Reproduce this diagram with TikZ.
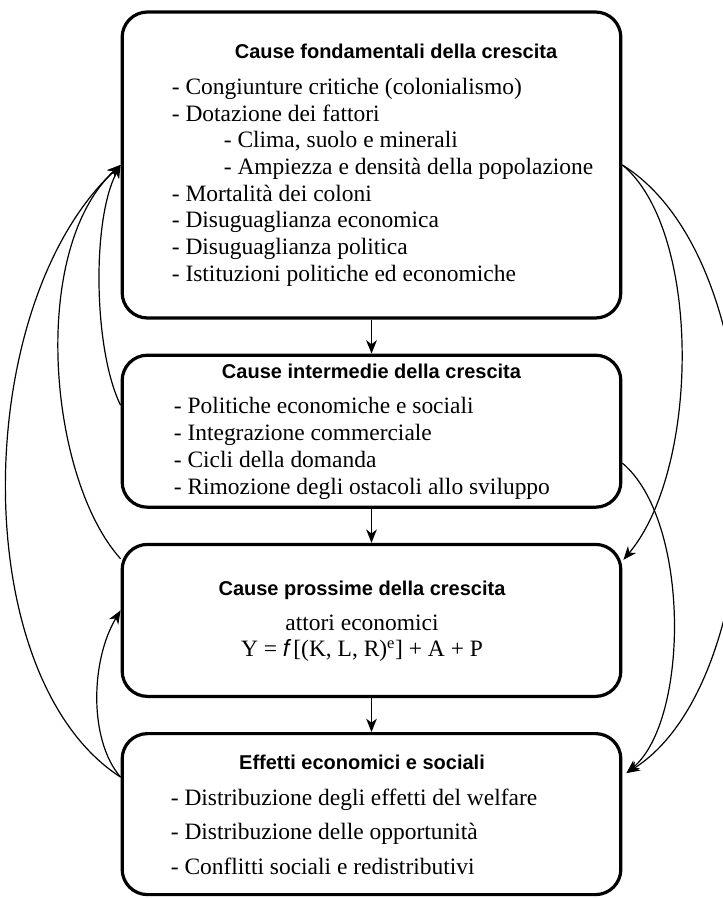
\documentclass[tikz,border=0pt]{standalone}
\usepackage{fontspec}
\setmainfont{Liberation Serif}
\setsansfont{Liberation Sans}
\usetikzlibrary{positioning,calc,arrows.meta}

\begin{document}
\begin{tikzpicture}[
    x=0.75pt, y=-0.75pt,  % 1 像素 = 0.75pt,y 轴向下
    riquadro/.style={draw, line width=2.4pt, rounded corners=19pt,
      minimum width=374pt, inner sep=0pt},
    titolo/.style={font=\sffamily\bfseries\fontsize{15pt}{18pt}\selectfont,
      anchor=base, inner sep=0pt},
    voce/.style={font=\fontsize{17.6pt}{21pt}\selectfont,
      anchor=base west, inner sep=0pt},
    freccia/.style={line width=0.9pt, -{Stealth[length=10pt, width=8pt, inset=3pt]}}
  ]
  \useasboundingbox (0,0) rectangle (722,899);

  % 四个圆角方框(从上到下)
  \node[riquadro, minimum height=229.5pt] (fond) at (371.5,165) {};
  \node[riquadro, minimum height=114pt, below=25.5pt of fond] (inter) {};
  \node[riquadro, minimum height=114pt, below=25.5pt of inter] (pross) {};
  \node[riquadro, minimum height=120.75pt, below=25.5pt of pross] (eff) {};

  % 第一个方框的文字
  \node[titolo] (fond-t) at ($(fond.north)+(24.5,48.5)$) {Cause fondamentali della crescita};
  \foreach \dx/\testo [count=\i] in {
      51/{- Congiunture critiche (colonialismo)},
      51/{- Dotazione dei fattori},
      103/{- Clima, suolo e minerali},
      103/{- Ampiezza e densità della popolazione},
      51/{- Mortalità dei coloni},
      51/{- Disuguaglianza economica},
      51/{- Disuguaglianza politica},
      51/{- Istituzioni politiche ed economiche}}
    \node[voce] (fond-\i) at ($(fond.north west)+(\dx,57.3+26.7*\i)$) {\testo};

  % 第二个方框的文字
  \node[titolo] (inter-t) at ($(inter.north)+(0,25)$) {Cause intermedie della crescita};
  \foreach \testo [count=\i] in {
      {- Politiche economiche e sociali},
      {- Integrazione commerciale},
      {- Cicli della domanda},
      {- Rimozione degli ostacoli allo sviluppo}}
    \node[voce] (inter-\i) at ($(inter.north west)+(53,33+27*\i)$) {\testo};

  % 第三个方框的文字
  \node[titolo] (pross-t) at ($(pross.north)+(-9.5,52.5)$) {Cause prossime della crescita};
  \node[voce, anchor=base] (pross-1) at ($(pross.north)+(-9.5,88)$) {attori economici};
  \node[voce, anchor=base] (pross-2) at ($(pross.north)+(-9.5,114)$)
    {Y = {\sffamily\itshape f}\,[(K, L, R)\textsuperscript{e}] + A + P};

  % 第四个方框的文字
  \node[titolo] (eff-t) at ($(eff.north)+(-9.5,37.5)$) {Effetti economici e sociali};
  \foreach \testo [count=\i] in {
      {- Distribuzione degli effetti del welfare},
      {- Distribuzione delle opportunità},
      {- Conflitti sociali e redistributivi}}
    \node[voce] (eff-\i) at ($(eff.north west)+(50,38.5+34.5*\i)$) {\testo};

  % 竖直箭头
  \draw[freccia] (fond.south) -- (inter.north);
  \draw[freccia] (inter.south) -- (pross.north);
  \draw[freccia] (pross.south) -- (eff.north);

  % 左侧的反馈曲线
  \draw[freccia] ($(inter.west)+(0,-26)$) .. controls +(-27,-55) and +(-29,55) .. (fond.west);
  \draw[freccia] ($(pross.north west)+(0,16)$) .. controls +(-72,-80) and +(-92,85) .. (fond.west);
  \draw[freccia] ($(eff.west)+(0,-37)$) .. controls +(-155,-100) and +(-150,140) .. (fond.west);
  \draw[freccia] ($(eff.west)+(0,-37)$) .. controls +(-32,-37) and +(-30,50) .. ($(pross.west)+(0,-10)$);

  % 右侧的曲线
  \draw[freccia] (fond.east) .. controls +(79,65) and +(77,-92) .. ($(pross.north east)+(1,17)$);
  \draw[freccia] (fond.east) .. controls +(160,100) and +(150,-95) .. ($(eff.east)+(4,-41)$);
  \draw[freccia] ($(inter.east)+(0,32)$) .. controls +(68,57) and +(63,-53) .. ($(eff.east)+(4,-41)$);
\end{tikzpicture}
\end{document}
